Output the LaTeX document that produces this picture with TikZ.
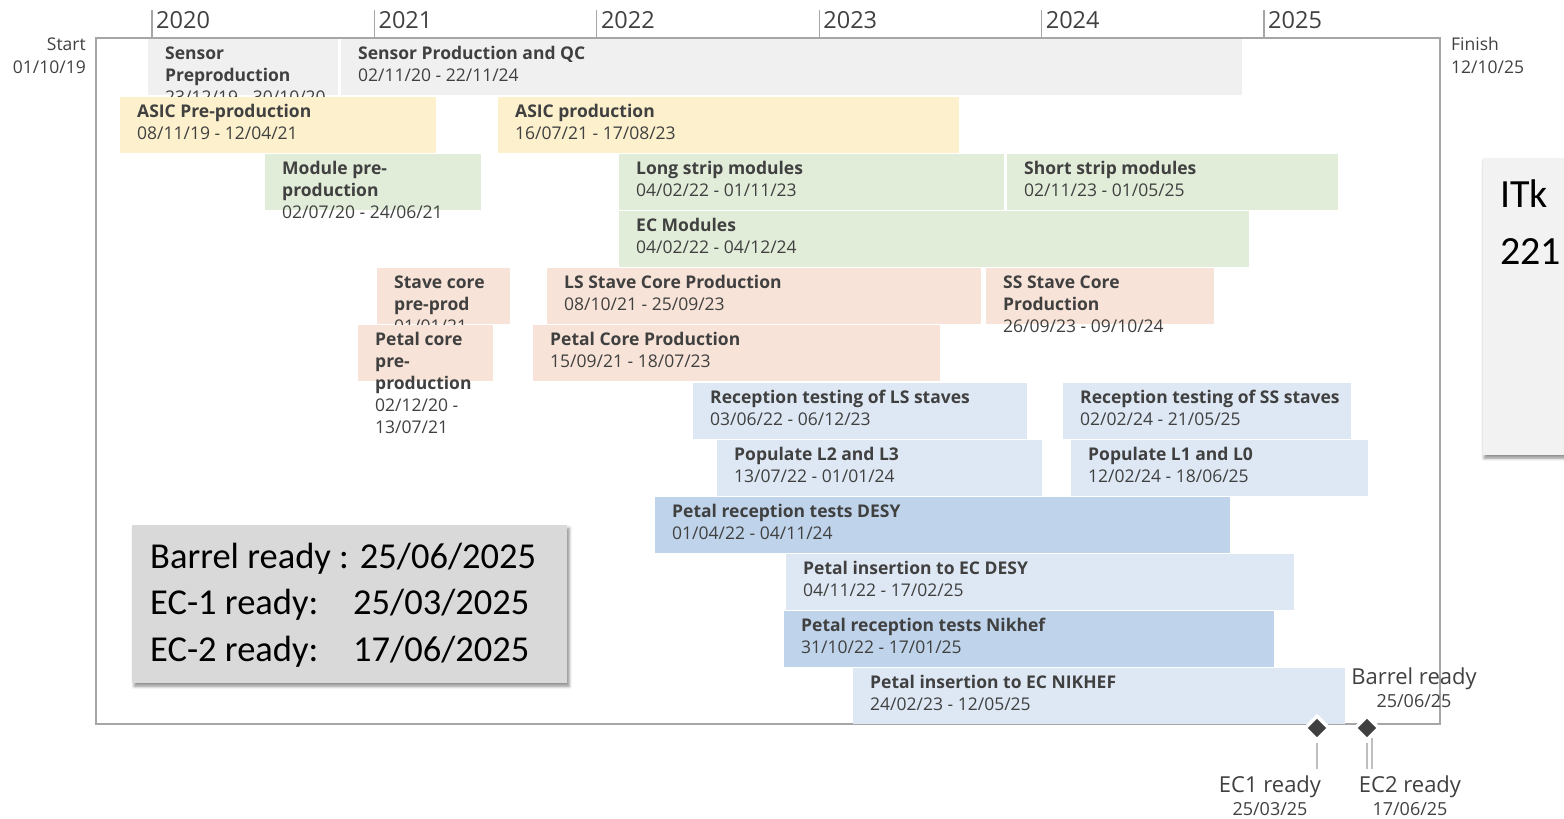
\documentclass[tikz,border=0pt]{standalone}
\usepackage{fontspec}
\setmainfont{Open Sans}
\newfontfamily\calfont{Carlito}
\usetikzlibrary{shapes.geometric,shadows.blur}

\definecolor{ink}{HTML}{404040}
\definecolor{framegray}{HTML}{A6A6A6}
\definecolor{sensorfill}{HTML}{F0F0F0}
\definecolor{asicfill}{HTML}{FCF0CD}
\definecolor{modfill}{HTML}{E2EDD9}
\definecolor{corefill}{HTML}{F7E3D7}
\definecolor{recfill}{HTML}{DEE8F4}
\definecolor{petalfill}{HTML}{BFD4EA}
\definecolor{summaryfill}{HTML}{D9D9D9}
\definecolor{notefill}{HTML}{F2F2F2}
\definecolor{stemgray}{HTML}{BFBFBF}

\tikzset{
  taskbox/.style={rectangle, inner sep=0pt, outer sep=0pt, anchor=north west,
    minimum height=55.5pt},
  tasktext/.style={anchor=north west, inner sep=0pt, align=left, text=ink,
    font=\fontsize{17.5}{22}\selectfont\bfseries},
  yearlbl/.style={anchor=base west, inner sep=0pt, text=ink,
    font=\fontsize{23.5}{23}\selectfont},
  tickline/.style={framegray, line width=1.1pt},
  endlbl/.style={inner sep=0pt, text=ink, font=\fontsize{17.5}{23}\selectfont},
  mslbl/.style={anchor=base, inner sep=0pt, text=ink, font=\fontsize{22}{22}\selectfont},
  msdate/.style={anchor=base, inner sep=0pt, text=ink, font=\fontsize{18}{22}\selectfont},
  milestone/.style={diamond, inner sep=0pt, minimum size=25pt, fill=ink,
    draw=white, line width=3.5pt},
  stemline/.style={stemgray, line width=1.6pt},
  sumtext/.style={anchor=base west, inner sep=0pt, text=black,
    font=\calfont\fontsize{36.5}{36}\selectfont},
}

% one Gantt bar with its title (bold) and date lines
\newcommand\task[7]{%
  \node[taskbox, fill=#5, minimum width={#3pt-#2pt}] (#1) at (#2,#4) {};
  \node[tasktext] (#1-txt) at ([xshift=17pt,yshift=-4.6pt]#1.north west)
    {\strut #6\\\mdseries #7};
}

\begin{document}
\begin{tikzpicture}[x=1pt, y=-1pt]
\useasboundingbox (0,0) rectangle (1564,819);

% outer frame of the time axis
\coordinate (fr-nw) at (96,38);
\coordinate (fr-se) at (1440,724);
\draw[framegray, line width=1.2pt] (fr-nw) rectangle (fr-se);

% year ticks
\foreach \yr [count=\i from 0] in {2020,...,2025}{
  \coordinate (tick\yr-top) at ({152+222.4*\i},10);
  \coordinate (tick\yr-bot) at ({152+222.4*\i},38);
  \draw[tickline] (tick\yr-top) -- (tick\yr-bot);
  \node[yearlbl] (year\yr) at ({156+222.4*\i},28) {\yr};
}

% start / finish
\node[endlbl, anchor=north east, align=right] (start) at (86,33.9) {\strut Start\\01/10/19};
\node[endlbl, anchor=north west, align=left] (finish) at (1451,33.9) {\strut Finish\\12/10/25};

% sensors
\task{sensorpre}{148}{338}{39}{sensorfill}{Sensor\\Preproduction}{23/12/19 - 30/10/20}
\task{sensorprod}{341}{1242}{39}{sensorfill}{Sensor Production and QC}{02/11/20 - 22/11/24}
% ASICs
\task{asicpre}{120}{436}{97}{asicfill}{ASIC Pre-production}{08/11/19 - 12/04/21}
\task{asicprod}{498}{959}{97}{asicfill}{ASIC production}{16/07/21 - 17/08/23}
% modules
\task{modpre}{265}{481}{154}{modfill}{Module pre-\\production}{02/07/20 - 24/06/21}
\task{lsmod}{619}{1004}{154}{modfill}{Long strip modules}{04/02/22 - 01/11/23}
\task{ssmod}{1007}{1338}{154}{modfill}{Short strip modules}{02/11/23 - 01/05/25}
\task{ecmod}{619}{1249}{211}{modfill}{EC Modules}{04/02/22 - 04/12/24}
% stave and petal cores
\task{stavepre}{377}{510}{268}{corefill}{Stave core\\pre-prod}{01/01/21 -}
\task{lsstave}{547}{981}{268}{corefill}{LS Stave Core Production}{08/10/21 - 25/09/23}
\task{ssstave}{986}{1214}{268}{corefill}{SS Stave Core\\Production}{26/09/23 - 09/10/24}
\task{petalpre}{358}{493}{325}{corefill}{Petal core\\pre-\\production}{02/12/20 -\\\mdseries 13/07/21}
\task{petalprod}{533}{940}{325}{corefill}{Petal Core Production}{15/09/21 - 18/07/23}
% barrel reception and loading
\task{reclss}{693}{1027}{383}{recfill}{Reception testing of LS staves}{03/06/22 - 06/12/23}
\task{recsss}{1063}{1351}{383}{recfill}{Reception testing of SS staves}{02/02/24 - 21/05/25}
\task{popl23}{717}{1042}{440}{recfill}{Populate L2 and L3}{13/07/22 - 01/01/24}
\task{popl10}{1071}{1368}{440}{recfill}{Populate L1 and L0}{12/02/24 - 18/06/25}
% end-caps
\task{desyrec}{655}{1230}{497}{petalfill}{Petal reception tests DESY}{01/04/22 - 04/11/24}
\task{desyins}{786}{1294}{554}{recfill}{Petal insertion to EC DESY}{04/11/22 - 17/02/25}
\task{nikrec}{784}{1274}{611}{petalfill}{Petal reception tests Nikhef}{31/10/22 - 17/01/25}
\task{nikins}{853}{1345}{668}{recfill}{Petal insertion to EC NIKHEF}{24/02/23 - 12/05/25}

% milestones
\node[milestone] (ec1) at (1317,728) {};
\node[milestone] (ec2) at (1367,728) {};
\coordinate (ec1-end) at (1317,769);
\coordinate (ec2-end) at (1367,769);
\coordinate (brl-top) at (1372,738);
\coordinate (brl-end) at (1372,769);
\draw[stemline] ([yshift=-1pt]ec1.south) -- (ec1-end);
\draw[stemline] ([yshift=-1pt]ec2.south) -- (ec2-end);
\draw[stemline] (brl-top) -- (brl-end);
\node[mslbl] (ec1-lbl) at (1270,792) {EC1 ready};
\node[msdate] (ec1-date) at (1270,815) {25/03/25};
\node[mslbl] (ec2-lbl) at (1410,792) {EC2 ready};
\node[msdate] (ec2-date) at (1410,815) {17/06/25};
\node[mslbl] (brl-lbl) at (1414,684) {Barrel ready};
\node[msdate] (brl-date) at (1414,707) {25/06/25};

% summary of completion dates
\node[rectangle, anchor=north west, inner sep=0pt, fill=summaryfill,
  minimum width=435pt, minimum height=158pt,
  blur shadow={shadow xshift=2pt, shadow yshift=-3pt, shadow blur radius=3pt, shadow opacity=45}]
  (summary) at (132,525) {};
\node[sumtext] (sum1) at (150,568) {Barrel ready : 25/06/2025};
\node[sumtext] (sum2a) at (150,614) {EC-1 ready:};
\node[sumtext] (sum2b) at (353,614) {25/03/2025};
\node[sumtext] (sum3a) at (150,661) {EC-2 ready:};
\node[sumtext] (sum3b) at (353,661) {17/06/2025};

% side note panel
\node[rectangle, anchor=north west, inner sep=0pt, fill=notefill,
  minimum width=120pt, minimum height=297pt,
  blur shadow={shadow xshift=1pt, shadow yshift=-3pt, shadow blur radius=3pt, shadow opacity=45}]
  (note) at (1483,158) {};
\node[sumtext, font=\calfont\fontsize{40}{40}\selectfont] (note1) at (1500,207) {ITk};
\node[sumtext, font=\calfont\fontsize{40}{40}\selectfont] (note2) at (1500,264) {221};
\end{tikzpicture}
\end{document}
